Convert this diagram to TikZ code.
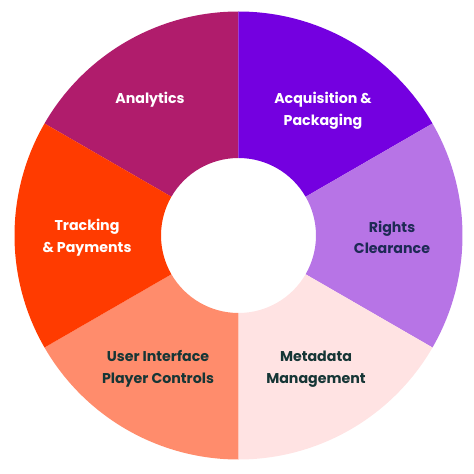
\documentclass[tikz,border=0pt]{standalone}
\usepackage{fontspec}
\setmainfont{Poppins}
\definecolor{analyticsplum}{HTML}{B01C6C}
\definecolor{acqviolet}{HTML}{7400E0}
\definecolor{rightslilac}{HTML}{B774E6}
\definecolor{metapink}{HTML}{FFE3E3}
\definecolor{uisalmon}{HTML}{FF8C6C}
\definecolor{trackorange}{HTML}{FF3B00}
\definecolor{navytext}{HTML}{1E2A55}
\definecolor{tealtext}{HTML}{163636}

\begin{document}
\begin{tikzpicture}[
  x=1pt, y=1pt,
  seglabel/.style={align=center, font=\bfseries\fontsize{14.2}{21.5}\selectfont, text=white},
  darklabel/.style={seglabel, text=tealtext}
]
\useasboundingbox (-238.5,-238.5) rectangle (235.5,235.5);
\foreach \a/\b/\col in {90/150/analyticsplum, 30/90/acqviolet, -30/30/rightslilac,
  -90/-30/metapink, -150/-90/uisalmon, 150/210/trackorange}
  \fill[\col] (\a:224) arc[start angle=\a, end angle=\b, radius=224]
    -- (\b:77.5) arc[start angle=\b, end angle=\a, radius=77.5] -- cycle;
\node[seglabel] (analytics) at (-88.5,135.5) {Analytics};
\node[seglabel] (acquisition) at (84.5,124.5) {Acquisition \&\\Packaging};
\node[seglabel, text=navytext] (rights) at (153.5,-2) {Rights\\Clearance};
\node[darklabel] (metadata) at (77.5,-133.5) {Metadata\\Management};
\node[darklabel] (ui) at (-80.5,-133.5) {User Interface\\Player Controls};
\node[seglabel] (tracking) at (-151.5,-2) {Tracking\\\& Payments};
\end{tikzpicture}
\end{document}
